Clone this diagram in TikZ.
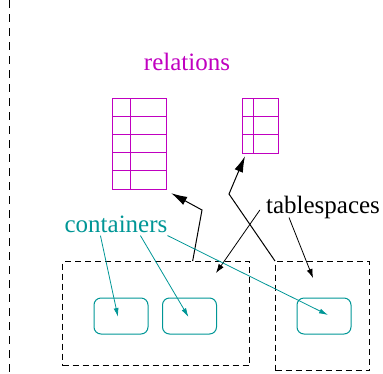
\documentclass[tikz,border=0pt]{standalone}
\usepackage{fontspec}
\setmainfont{Liberation Serif}
\usetikzlibrary{arrows.meta,calc}
\definecolor{relmag}{RGB}{192,0,192}
\definecolor{contteal}{RGB}{0,150,150}
\tikzset{
  dashline/.style={draw=black, line width=1pt, dash pattern=on 6pt off 4pt},
  tspace/.style={dashline, minimum width=#1, inner sep=0pt, anchor=north west},
  tbl/.style={draw=relmag, line width=1.2pt, inner sep=0pt, anchor=north west},
  tblgrid/.style={draw=relmag, line width=0.9pt},
  cont/.style={draw=contteal, line width=1pt, rounded corners=7pt, minimum width=54pt, minimum height=36pt, inner sep=0pt},
  bigarrow/.style={draw=black, line width=1pt, -{Latex[length=16pt,width=9pt]}},
  thinarrow/.style={draw=black, line width=0.8pt, -{Latex[length=9pt,width=6pt]}},
  tealarrow/.style={draw=contteal, line width=0.8pt, -{Latex[length=9pt,width=5pt]}},
  lbl/.style={font=\fontsize{25}{28}\selectfont, inner sep=0pt}
}
\begin{document}
\begin{tikzpicture}[x=1pt,y=-1pt]
\useasboundingbox (0,0) rectangle (383,373);
% left dashed separator
\coordinate (sepTop) at (9,0);
\coordinate (sepBot) at (9,373);
\draw[dashline, dash pattern=on 8pt off 6pt] (sepTop) -- (sepBot);

% relations
\node[lbl, text=relmag] (rel) at (187,62) {relations};
\node[tbl, minimum width=54pt, minimum height=91pt] (t1) at (112,98) {};
\foreach \yy in {18,36,54,72}
  \draw[tblgrid] ($(t1.north west)+(0,\yy)$) -- ($(t1.north east)+(0,\yy)$);
\draw[tblgrid] ($(t1.north west)+(18,0)$) -- ($(t1.south west)+(18,0)$);
\node[tbl, minimum width=36pt, minimum height=55pt] (t2) at (242,98) {};
\foreach \yy in {18,36}
  \draw[tblgrid] ($(t2.north west)+(0,\yy)$) -- ($(t2.north east)+(0,\yy)$);
\draw[tblgrid] ($(t2.north west)+(11,0)$) -- ($(t2.south west)+(11,0)$);

% tablespaces
\node[tspace=187pt, minimum height=104pt] (ts1) at (62,261) {};
\node[tspace=94pt, minimum height=109pt] (ts2) at (275,261) {};

% containers
\node[cont] (c1) at (121,316) {};
\node[cont] (c2) at (189.5,316) {};
\node[cont] (c3) at (324,316) {};

% labels
\node[lbl, text=black] (tsl) at (323,207) {tablespaces};
\node[lbl, text=contteal] (cl) at (116,224) {containers};

% relation-to-tablespace arrows
\coordinate (a1s) at ($(ts1.north west)!0.695!(ts1.north east)$);
\coordinate (a1b) at (202,210);
\draw[bigarrow] (a1s) -- (a1b) -- ($(t1.south east)+(4,3)$);
\coordinate (a2b) at (229,194);
\draw[bigarrow] (ts2.north west) -- (a2b) -- ($(t2.south west)+(3,2)$);

% tablespaces label arrows
\draw[thinarrow] ($(tsl.west)+(-6,3)$) -- ($(ts1.north east)+(-34,12)$);
\draw[thinarrow] ($(tsl.south)+(-34,-1)$) -- ($(ts2.north west)+(38,17)$);

% containers label arrows
\draw[tealarrow] ($(cl.south west)+(36,3)$) -- ($(c1.center)+(-3,1)$);
\draw[tealarrow] ($(cl.south west)+(76,3)$) -- ($(c2.center)+(-1,1)$);
\draw[tealarrow] ($(cl.south east)+(0,3)$) -- ($(c3.center)+(4,-1)$);
\end{tikzpicture}
\end{document}
